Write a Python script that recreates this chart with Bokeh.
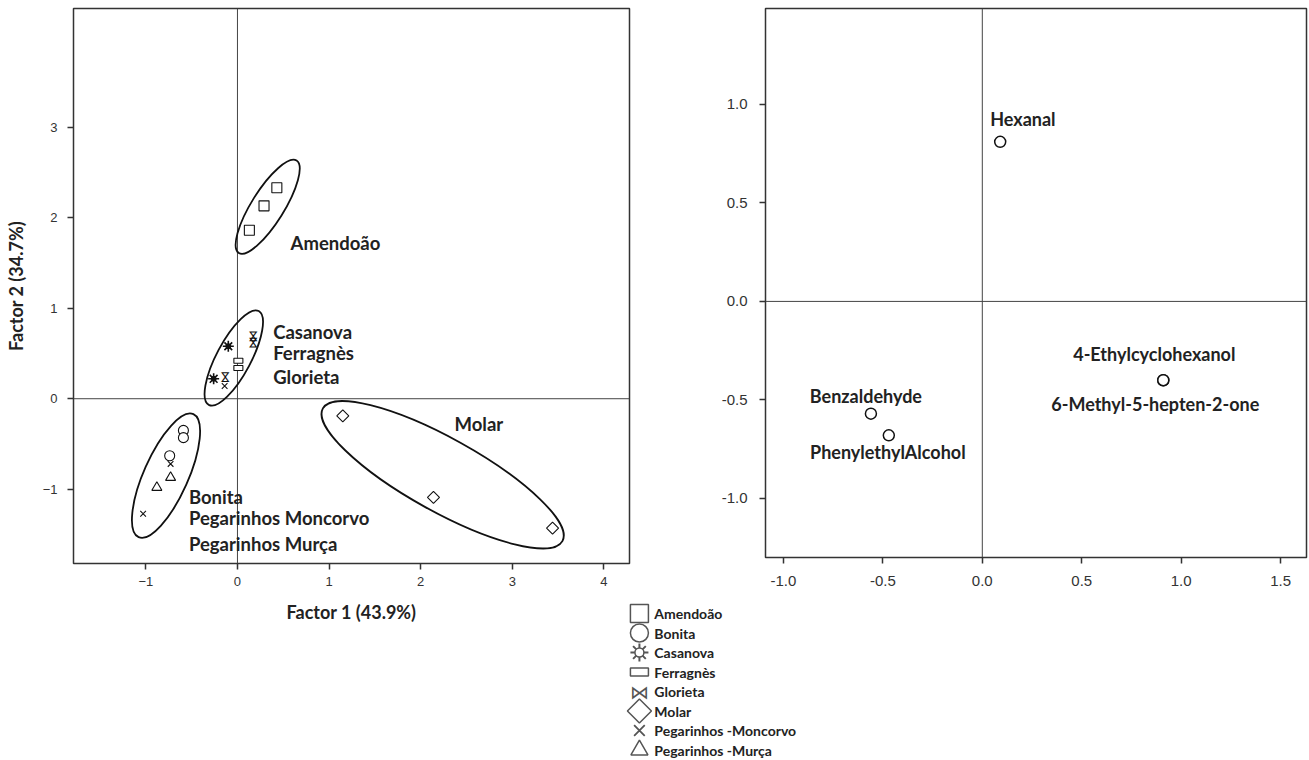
import numpy as np
from bokeh.plotting import figure
from bokeh.models import Range1d, FixedTicker, Span, GridBox, NumeralTickFormatter
from bokeh.core.properties import value
from bokeh.embed import file_html
from bokeh.resources import INLINE

# ---------------- Left panel: cultivar scores ----------------
amendoao_x = [0.13, 0.29, 0.43]
amendoao_y = [1.86, 2.13, 2.33]
bonita_x = [-0.59, -0.59, -0.74]
bonita_y = [-0.35, -0.43, -0.63]
casanova_x = [-0.10, -0.26]
casanova_y = [0.58, 0.22]
ferragnes_x = [0.01, 0.01]
ferragnes_y = [0.42, 0.34]
glorieta_x = [0.17, 0.17, -0.14]
glorieta_y = [0.69, 0.62, 0.24]
molar_x = [1.15, 2.14, 3.44]
molar_y = [-0.19, -1.09, -1.43]
moncorvo_x = [-0.14, -0.73, -1.03]
moncorvo_y = [0.14, -0.72, -1.27]
murca_x = [-0.73, -0.88]
murca_y = [-0.87, -0.98]

# group ellipses (centre, major/minor axis, tilt in degrees)
ell_x = [0.33, -0.04, -0.78, 2.24]
ell_y = [2.12, 0.45, -0.85, -0.84]
ell_w = [1.19, 1.16, 1.47, 2.99]
ell_h = [0.36, 0.38, 0.49, 0.81]
ell_angle_deg = [58, 62, 66, -29]

group_labels = ["Amendoão", "Casanova", "Ferragnès", "Glorieta", "Molar",
                "Bonita", "Pegarinhos Moncorvo", "Pegarinhos Murça"]
group_label_x = [0.58, 0.39, 0.39, 0.39, 2.37, -0.53, -0.53, -0.53]
group_label_y = [1.72, 0.74, 0.50, 0.24, -0.28, -1.09, -1.32, -1.60]

left_xticks = [-1, 0, 1, 2, 3, 4]
left_yticks = [-1, 0, 1, 2, 3]

# ---------------- Right panel: volatile loadings ----------------
compounds = ["Hexanal", "4-Ethylcyclohexanol", "6-Methyl-5-hepten-2-one",
             "Benzaldehyde", "PhenylethylAlcohol"]
comp_x = [0.09, 0.91, 0.91, -0.56, -0.47]
comp_y = [0.81, -0.40, -0.40, -0.57, -0.68]
right_xticks = [-1.0, -0.5, 0.0, 0.5, 1.0, 1.5]
right_yticks = [-1.0, -0.5, 0.0, 0.5, 1.0]

legend_names = ["Amendoão", "Bonita", "Casanova", "Ferragnès", "Glorieta",
                "Molar", "Pegarinhos -Moncorvo", "Pegarinhos -Murça"]

LABEL_FONT = "Lato"
TICK_FONT = "Liberation Sans"
INK = "#111111"
FRAME = "#333333"


def style_axes(p, tick_size, x_standoff, y_standoff):
    p.xgrid.visible = False
    p.ygrid.visible = False
    for ax in (p.xaxis[0], p.yaxis[0]):
        ax.axis_line_color = None
        ax.major_tick_line_color = FRAME
        ax.major_tick_line_width = 1.5
        ax.major_tick_out = 6
        ax.major_tick_in = 0
        ax.minor_tick_line_color = None
        ax.major_label_text_font = TICK_FONT
        ax.major_label_text_font_size = tick_size
        ax.major_label_text_color = "#333333"
        ax.axis_label_text_font = LABEL_FONT
        ax.axis_label_text_font_style = "bold"
        ax.axis_label_text_font_size = "18px"
        ax.axis_label_text_color = "#222222"
    p.xaxis[0].major_label_standoff = x_standoff
    p.yaxis[0].major_label_standoff = y_standoff
    p.outline_line_color = FRAME
    p.outline_line_width = 1.5
    p.add_layout(Span(location=0, dimension="height", line_color="#444444",
                      line_width=1, level="underlay"))
    p.add_layout(Span(location=0, dimension="width", line_color="#444444",
                      line_width=1, level="underlay"))


# ---------------- Left figure ----------------
p1 = figure(width=718, height=628, x_range=Range1d(-1.79, 4.28),
            y_range=Range1d(-1.82, 4.31), output_backend="svg",
            toolbar_location=None, min_border_left=73, min_border_right=89,
            min_border_top=8, min_border_bottom=65,
            x_axis_label="Factor 1 (43.9%)", y_axis_label="Factor 2 (34.7%)")
style_axes(p1, "13px", 7, 10)
p1.xaxis[0].ticker = FixedTicker(ticks=left_xticks)
p1.yaxis[0].ticker = FixedTicker(ticks=left_yticks)
p1.xaxis[0].axis_label_standoff = 12
p1.yaxis[0].axis_label_standoff = 13

p1.ellipse(x=ell_x, y=ell_y, width=ell_w, height=ell_h,
           angle=[np.deg2rad(a) for a in ell_angle_deg],
           fill_color=None, line_color=INK, line_width=1.8)

mk = dict(line_color=INK, line_width=1.1, fill_color="white")
p1.scatter(amendoao_x, amendoao_y, marker="square", size=10, **mk)
p1.scatter(bonita_x, bonita_y, marker="circle", size=10, **mk)
p1.scatter(casanova_x, casanova_y, marker="asterisk", size=11,
           line_color=INK, line_width=1.6)
p1.scatter(casanova_x, casanova_y, marker="circle", size=5,
           line_color=INK, fill_color=INK)
p1.rect(ferragnes_x, ferragnes_y, width=9, height=5, width_units="screen",
        height_units="screen", **mk)
p1.text(glorieta_x, glorieta_y, text=value("⋈"), angle=np.pi / 2,
        text_font=value("DejaVu Sans"), text_font_size="12px",
        text_align="center", text_baseline="middle", text_color=INK)
p1.scatter(molar_x, molar_y, marker="square", angle=np.pi / 4, size=8.5, **mk)
p1.scatter(moncorvo_x, moncorvo_y, marker="x", size=8, line_color=INK,
           line_width=1.1)
p1.scatter(murca_x, murca_y, marker="triangle", size=10, **mk)

p1.text(group_label_x, group_label_y, text=group_labels,
        text_font=value(LABEL_FONT), text_font_style="bold",
        text_font_size="18.5px", text_align="left", text_baseline="middle",
        text_color="#222222")

# ---------------- Right figure ----------------
p2 = figure(width=591, height=595, x_range=Range1d(-1.09, 1.63),
            y_range=Range1d(-1.30, 1.487), output_backend="svg",
            toolbar_location=None, min_border_left=47, min_border_right=3,
            min_border_top=8, min_border_bottom=38)
style_axes(p2, "15px", 12, 12)
p2.xaxis[0].ticker = FixedTicker(ticks=right_xticks)
p2.yaxis[0].ticker = FixedTicker(ticks=right_yticks)
p2.xaxis[0].formatter = NumeralTickFormatter(format="0.0")
p2.yaxis[0].formatter = NumeralTickFormatter(format="0.0")

p2.scatter(comp_x, comp_y, marker="circle", size=11, line_color=INK,
           line_width=1.5, fill_color="white")
lab_dx = [-10, -9, -8, -5, -1]
lab_dy = [-23, -26, 24, -18, 17]
lab_align = ["left", "center", "center", "center", "center"]
p2.text(x=comp_x, y=comp_y, text=compounds, x_offset=lab_dx, y_offset=lab_dy,
        text_align=lab_align, text_baseline="middle",
        text_font=value(LABEL_FONT), text_font_style="bold",
        text_font_size="18px", text_color="#222222")

# ---------------- Legend figure (pixel space) ----------------
leg = figure(width=687, height=165, x_range=Range1d(622, 1309),
             y_range=Range1d(760, 595), output_backend="svg",
             toolbar_location=None, min_border=0, x_axis_type=None,
             y_axis_type=None, outline_line_color=None)
leg.xgrid.visible = False
leg.ygrid.visible = False
step = 19.5
gy = [613 + i * step for i in range(len(legend_names))]
gx = 639
GREY = "#555555"
lk = dict(line_color=GREY, line_width=1.5, fill_color="white")
leg.scatter([gx], [gy[0]], marker="square", size=18, **lk)
leg.scatter([gx], [gy[1]], marker="circle", size=18, **lk)
leg.scatter([gx], [gy[2]], marker="asterisk", size=18, line_color=GREY, line_width=2)
leg.scatter([gx], [gy[2]], marker="circle", size=9, **lk)
leg.rect([gx], [gy[3]], width=18, height=8, width_units="screen",
         height_units="screen", **lk)
leg.text([gx], [gy[4]], text=value("⋈"), text_font=value("DejaVu Sans"),
         text_font_size="19px", text_align="center", text_baseline="middle",
         text_color=GREY)
leg.scatter([gx], [gy[5]], marker="square", angle=np.pi / 4, size=17, **lk)
leg.scatter([gx], [gy[6]], marker="x", size=15, line_color=GREY, line_width=1.8)
leg.scatter([gx], [gy[7]], marker="triangle", size=17, **lk)
leg.text([gx + 15] * len(legend_names), gy, text=legend_names,
         text_font=value(LABEL_FONT), text_font_style="bold",
         text_font_size="14px", text_align="left", text_baseline="middle",
         text_color="#222222")

grid = GridBox(children=[(p1, 0, 0, 2, 2), (p2, 0, 2, 1, 2), (leg, 1, 1, 2, 3)],
               cols=["622px", "96px", "82px", "509px"],
               rows=["595px", "33px", "132px"])

open("out.html", "w").write(file_html(grid, INLINE))
